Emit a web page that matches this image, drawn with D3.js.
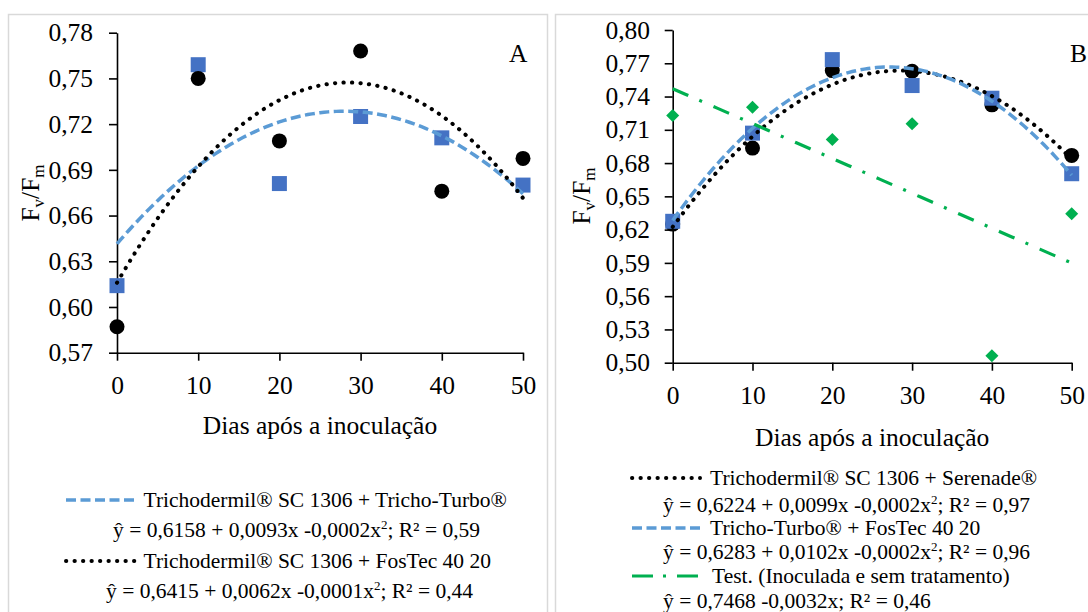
<!DOCTYPE html>
<html>
<head>
<meta charset="utf-8">
<script src="https://cdnjs.cloudflare.com/ajax/libs/d3/7.8.5/d3.min.js"></script>
<style>
body{margin:0;background:#fff}
</style>
</head>
<body>
<div id="chart"></div>
<script>
// dados
const dias = [0, 10, 20, 30, 40, 50]

// painel A
const aTurbo  = [0.614, 0.759, 0.681, 0.725, 0.711, 0.680]   // quadrados azuis
const aFosTec = [0.587, 0.750, 0.709, 0.768, 0.676, 0.6975]  // círculos pretos

// painel B
const bSerenade = [0.625, 0.6935, 0.7634, 0.7628, 0.7325, 0.6869]
const bFosTec   = [0.6275, 0.707, 0.7733, 0.7499, 0.7385, 0.6704]
const bTest     = [0.7229, 0.7304, 0.7013, 0.7154, 0.5063, 0.6344]

const ticksX = [0, 10, 20, 30, 40, 50]
const ticksA = [0.57, 0.60, 0.63, 0.66, 0.69, 0.72, 0.75, 0.78]
const ticksB = [0.50, 0.53, 0.56, 0.59, 0.62, 0.65, 0.68, 0.71, 0.74, 0.77, 0.80]

const nomesA = ["Trichodermil® SC 1306 + Tricho-Turbo®", "Trichodermil® SC 1306 + FosTec 40 20"]
const eqA = ["ŷ = 0,6158 + 0,0093x -0,0002x²; R² = 0,59", "ŷ = 0,6415 + 0,0062x -0,0001x²; R² = 0,44"]
const nomesB = ["Trichodermil® SC 1306 + Serenade®", "Tricho-Turbo® + FosTec 40 20", "Test. (Inoculada e sem tratamento)"]
const eqB = ["ŷ = 0,6224 + 0,0099x -0,0002x²; R² = 0,97", "ŷ = 0,6283 + 0,0102x -0,0002x²; R² = 0,96", "ŷ = 0,7468 -0,0032x; R² = 0,46"]

const tituloX = "Dias após a inoculação"

// cores e estilos
const azulMarca = "#4472C4", azulLinha = "#5B9BD5", verde = "#00B050"
const tracoAzul = "10 4.5", pontilhado = "0.3 8.2", tracoVerde = "17 12 3 12.5"
const fonte = "Liberation Serif, Times New Roman, serif"

const ancho = 1088, alto = 612
const svg = d3.select("#chart").append("svg").attr("width", ancho).attr("height", alto)
  .attr("font-family", fonte)

// bordas dos painéis
svg.append("rect").attr("x", 8.5).attr("y", 14.5).attr("width", 539).attr("height", 700)
  .attr("fill", "none").attr("stroke", "#d9d9d9").attr("stroke-width", 1.5)
svg.append("rect").attr("x", 555.5).attr("y", 14.5).attr("width", 600).attr("height", 700)
  .attr("fill", "none").attr("stroke", "#d9d9d9").attr("stroke-width", 1.5)

// regressão polinomial por mínimos quadrados (linha de tendência)
function ajuste(xs, ys, grau) {
  const n = grau + 1
  const A = Array.from({length: n}, () => Array(n + 1).fill(0))
  xs.forEach((x, k) => {
    for (let i = 0; i < n; i++) {
      for (let j = 0; j < n; j++) A[i][j] += Math.pow(x, i + j)
      A[i][n] += ys[k] * Math.pow(x, i)
    }
  })
  for (let i = 0; i < n; i++) {
    for (let r = i + 1; r < n; r++) {
      const f = A[r][i] / A[i][i]
      for (let c = i; c <= n; c++) A[r][c] -= f * A[i][c]
    }
  }
  const coef = Array(n).fill(0)
  for (let i = n - 1; i >= 0; i--) {
    let s = A[i][n]
    for (let j = i + 1; j < n; j++) s -= A[i][j] * coef[j]
    coef[i] = s / A[i][i]
  }
  return x => coef.reduce((s, c, i) => s + c * Math.pow(x, i), 0)
}

const formato = d => d.toFixed(2).replace(".", ",")
const simbolo = {
  circulo: d3.symbol(d3.symbolCircle, Math.PI * 7.5 * 7.5)(),
  quadrado: d3.symbol(d3.symbolSquare, 225)(),
  losango: d3.symbol(d3.symbolSquare, 85)()
}

function texto(g) {
  return g.append("text").attr("font-family", fonte).attr("fill", "#000")
}

function painel(op) {
  const x = d3.scaleLinear().domain([0, 50]).range(op.rx)
  const y = d3.scaleLinear().domain(op.dominio).range(op.ry)
  const g = svg.append("g")

  const ejeX = d3.axisBottom(x).tickValues(ticksX).tickSizeInner(8).tickSizeOuter(0).tickPadding(14.8)
  const ejeY = d3.axisLeft(y).tickValues(op.ticks).tickFormat(formato).tickSizeInner(8).tickSizeOuter(0).tickPadding(op.padY)
  const gx = g.append("g").attr("transform", `translate(0,${op.ry[0]})`).call(ejeX)
  const gy = g.append("g").attr("transform", `translate(${op.rx[0]},0)`).call(ejeY)
  ;[gx, gy].forEach(e => {
    e.attr("font-family", fonte)
    e.selectAll("path,line").attr("stroke", "#000").attr("stroke-width", 1.6)
    e.selectAll("text").attr("font-size", 25.5).attr("font-family", fonte).attr("fill", "#000")
  })

  // marcadores
  op.series.forEach(s => {
    g.append("g").selectAll("path").data(dias.map((d, i) => [d, s.valores[i]])).enter().append("path")
      .attr("d", simbolo[s.forma])
      .attr("transform", d => `translate(${x(d[0])},${y(d[1])})` + (s.forma === "losango" ? " rotate(45)" : ""))
      .attr("fill", s.cor)
  })

  // linhas de tendência
  const linea = d3.line().x(d => x(d[0])).y(d => y(d[1]))
  op.series.forEach(s => {
    const f = ajuste(dias, s.valores, s.grau)
    const pts = d3.range(0, 50.001, 0.5).map(t => [t, f(t)])
    g.append("path").attr("d", linea(pts)).attr("fill", "none")
      .attr("stroke", s.corLinha).attr("stroke-width", s.largura)
      .attr("stroke-dasharray", s.traco).attr("stroke-linecap", s.cap)
  })

  // letra do painel
  texto(g).attr("x", op.letra[0]).attr("y", op.letra[1]).attr("font-size", 25.5).text(op.letra[2])

  // título do eixo x
  texto(g).attr("x", (op.rx[0] + op.rx[1]) / 2).attr("y", op.tituloXy)
    .attr("text-anchor", "middle").attr("font-size", 25.5).text(tituloX)

  // título do eixo y: Fv/Fm
  const ty = texto(g).attr("transform", `translate(${op.tituloY[0]},${op.tituloY[1]}) rotate(-90)`)
    .attr("text-anchor", "middle").attr("font-size", 25.5)
  ty.append("tspan").text("F")
  ty.append("tspan").attr("font-size", 17).attr("dy", 5).text("v")
  ty.append("tspan").attr("dy", -5).text("/F")
  ty.append("tspan").attr("font-size", 17).attr("dy", 5).text("m")

  // legenda
  op.legenda.forEach(l => {
    if (l.simbolo) {
      const s = l.simbolo
      g.append("line").attr("x1", l.lx[0]).attr("x2", l.lx[1]).attr("y1", l.y).attr("y2", l.y)
        .attr("stroke", s.corLinha).attr("stroke-width", s.largura)
        .attr("stroke-dasharray", s.tracoLeg || s.traco).attr("stroke-linecap", s.cap)
    }
    const t = texto(g).attr("x", l.x).attr("y", l.y + 7).attr("font-size", 21.5)
    const partes = l.texto.split("x²")
    partes.forEach((p, i) => {
      const sp = t.append("tspan").text(p)
      if (i > 0) sp.attr("dy", 8)
      if (i < partes.length - 1) {
        t.append("tspan").text("x")
        t.append("tspan").attr("font-size", 13).attr("dy", -8).text("2")
      }
    })
  })
}

const sAturbo = {valores: aTurbo, forma: "quadrado", cor: azulMarca, grau: 2, corLinha: azulLinha, largura: 3.5, traco: tracoAzul, cap: "butt"}
const sAfos = {valores: aFosTec, forma: "circulo", cor: "#000", grau: 2, corLinha: "#000", largura: 4, traco: pontilhado, cap: "round"}
const sBser = {valores: bSerenade, forma: "circulo", cor: "#000", grau: 2, corLinha: "#000", largura: 4, traco: pontilhado, cap: "round"}
const sBfos = {valores: bFosTec, forma: "quadrado", cor: azulMarca, grau: 2, corLinha: azulLinha, largura: 3.5, traco: tracoAzul, cap: "butt"}
const sBtest = {valores: bTest, forma: "losango", cor: verde, grau: 1, corLinha: verde, largura: 3.2, traco: tracoVerde, tracoLeg: "21 10 3 11", cap: "butt"}

painel({
  rx: [117, 523], ry: [352.7, 32.7], dominio: [0.57, 0.78], ticks: ticksA, padY: 16,
  series: [sAturbo, sAfos],
  letra: [509, 61.5, "A"], tituloXy: 434, tituloY: [39, 193],
  legenda: [
    {simbolo: sAturbo, lx: [66, 135], x: 143.5, y: 500, texto: nomesA[0]},
    {x: 113, y: 530, texto: eqA[0]},
    {simbolo: sAfos, lx: [66, 135], x: 143.5, y: 561, texto: nomesA[1]},
    {x: 106, y: 591, texto: eqA[1]}
  ]
})

painel({
  rx: [672.7, 1071.7], ry: [362.7, 30], dominio: [0.50, 0.80], ticks: ticksB, padY: 14.7,
  series: [sBser, sBfos, sBtest],
  letra: [1070, 62, "B"], tituloXy: 446, tituloY: [590, 196],
  legenda: [
    {simbolo: sBser, lx: [632, 700], x: 710, y: 478, texto: nomesB[0]},
    {x: 663, y: 505, texto: eqB[0]},
    {simbolo: sBfos, lx: [632, 700], x: 710, y: 528, texto: nomesB[1]},
    {x: 663, y: 552, texto: eqB[1]},
    {simbolo: sBtest, lx: [632, 700], x: 712, y: 576, texto: nomesB[2]},
    {x: 663, y: 601, texto: eqB[2]}
  ]
})
</script>
</body>
</html>
